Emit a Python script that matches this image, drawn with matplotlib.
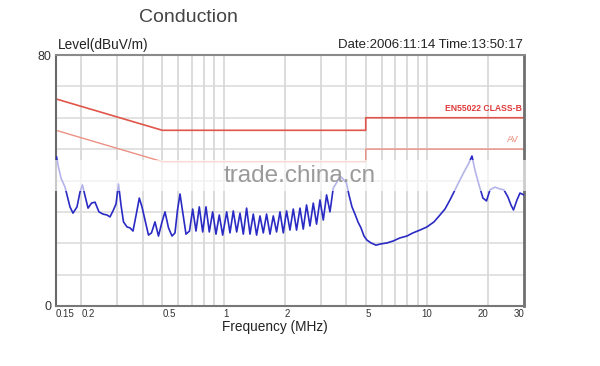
import matplotlib
matplotlib.use("Agg")
import matplotlib.pyplot as plt
from matplotlib.patches import Rectangle

FREQ = [
    0.1509, 0.1535, 0.1587, 0.1661, 0.1757, 0.1818, 0.1903, 0.1968, 0.2024, 0.2084,
    0.2156, 0.2243, 0.2333, 0.2439, 0.2553, 0.2673, 0.2764, 0.2860, 0.2959, 0.3044,
    0.3131, 0.3221, 0.3351, 0.3467, 0.3586, 0.3731, 0.3851, 0.3970, 0.4108, 0.4274,
    0.4421, 0.4600, 0.4786, 0.4981, 0.5153, 0.5361, 0.5578, 0.5770, 0.5936, 0.6106,
    0.6317, 0.6535, 0.6799, 0.7050, 0.7318, 0.7596, 0.7895, 0.8195, 0.8507, 0.8840,
    0.9177, 0.9527, 0.9900, 1.0359, 1.0753, 1.1163, 1.1600,
    1.2044, 1.2503, 1.2979, 1.3487, 1.3999, 1.4532, 1.5102, 1.5676, 1.6273, 1.6912,
    1.7555, 1.8222, 1.8938, 1.9658, 2.0405, 2.1205, 2.2012, 2.2849, 2.3747, 2.4650,
    2.5588, 2.6595, 2.7608, 2.8659, 2.9786, 3.0919, 3.2095, 3.3355, 3.4624,
    3.6105, 3.7355, 3.8646, 4.0207, 4.1362, 4.2790, 4.4268, 4.5797, 4.7379, 4.9016,
    5.0709, 5.3059, 5.6150, 5.9419, 6.3593, 6.8063, 7.3684, 7.9748, 8.5359, 9.2385,
    10.002, 10.826, 11.588, 12.263, 12.977, 13.733, 14.532, 15.379, 16.090, 16.646,
    17.221, 18.019, 18.854, 19.616, 20.408, 21.597, 22.855, 23.914, 25.022, 25.886,
    26.630, 27.707, 28.663, 29.990,
]
LEVEL = [
    47.5, 44.9, 40.8, 37.9, 31.6, 29.6, 31.6, 36.3, 38.6, 35.1,
    31.2, 32.8, 33.1, 30.0, 29.3, 29.0, 28.4, 30.3, 32.5, 38.9,
    32.2, 26.8, 25.2, 24.9, 23.9, 29.6, 34.4, 31.6, 27.4, 22.6,
    23.3, 26.8, 22.3, 26.8, 30.0, 24.9, 22.3, 23.3, 30.6, 35.7,
    29.3, 22.9, 23.9, 30.9, 23.9, 31.6, 23.6, 31.6, 23.6, 30.0,
    22.9, 29.0, 22.6, 30.0, 23.3, 30.3, 23.6,
    29.6, 22.9, 31.2, 22.9, 29.3, 22.6, 28.7, 23.3, 29.3, 22.9,
    28.7, 23.6, 30.0, 23.3, 30.3, 24.2, 30.9, 24.2, 31.2, 24.5,
    32.2, 25.5, 32.8, 26.1, 33.8, 27.4, 35.4, 30.0, 37.6,
    39.5, 41.4, 40.5, 39.2, 35.4, 31.6, 29.3, 26.8, 24.9, 22.3,
    21.0, 20.1, 19.4, 19.8, 20.1, 20.7, 21.7, 22.3, 23.3, 24.2,
    25.2, 26.8, 29.0, 30.9, 33.8, 37.0, 40.2, 43.3, 45.6, 47.8,
    43.3, 38.6, 34.4, 33.5, 37.0, 37.9, 37.3, 37.0, 34.7, 32.2,
    30.6, 33.8, 36.0, 35.4,
]

# EN55022 class B limits
QP_FREQ = [0.15, 0.5, 5, 5, 30]
QP_LEVEL = [66, 56, 56, 60, 60]
AV_FREQ = [0.15, 0.5, 5, 5, 30]
AV_LEVEL = [56, 46, 46, 50, 50]

TICKS = [0.15, 0.2, 0.5, 1, 2, 5, 10, 20, 30]
TICK_LABELS = ["0.15", "0.2", "0.5", "1", "2", "5", "10", "20", "30"]
TICK_HA = ["left", "left", "left", "left", "left", "left", "center", "right", "right"]
MINOR = [0.3, 0.4, 0.6, 0.7, 0.8, 0.9, 3, 4, 6, 7, 8, 9]

plt.rcParams["font.family"] = ["Liberation Sans", "DejaVu Sans"]

fig = plt.figure(figsize=(6.0, 3.66), dpi=100)
ax = fig.add_axes([56 / 600, 60 / 366, 468 / 600, 251 / 366])

ax.set_xscale("log")
ax.set_xlim(0.15, 30)
ax.set_ylim(0, 80)

for f in TICKS[1:-1] + MINOR:
    ax.axvline(f, color="#d2d2d2", lw=1.1, zorder=0)
for lv in range(10, 80, 10):
    ax.axhline(lv, color="#dadada", lw=1.1, zorder=0)

ax.plot(QP_FREQ, QP_LEVEL, color="#e0564a", lw=1.2, zorder=2)
ax.plot(AV_FREQ, AV_LEVEL, color="#ec9184", lw=1.0, zorder=2)
ax.plot(FREQ, LEVEL, color="#2a2ac4", lw=1.2, zorder=3)

ax.text(0.995, 61.5, "EN55022 CLASS-B", transform=ax.get_yaxis_transform(),
        ha="right", va="bottom", fontsize=6.2, fontweight="bold", color="#e03a3a")
ax.text(0.99, 51.5, "AV", transform=ax.get_yaxis_transform(),
        ha="right", va="bottom", fontsize=6.8, color="#e98a7a")

ax.minorticks_off()
ax.set_xticks(TICKS, TICK_LABELS)
for lab, ha in zip(ax.get_xticklabels(), TICK_HA):
    lab.set_ha(ha)
ax.set_yticks([0, 80], ["0", "80"])
ax.tick_params(axis="x", length=0, pad=2, labelsize=7, labelcolor="#333333")
ax.tick_params(axis="y", length=0, pad=3, labelsize=9, labelcolor="#333333")

for side, col, lw in (("left", "#6a6a6a", 1.5), ("bottom", "#777777", 1.5),
                      ("top", "#8a8a8a", 1.5), ("right", "#6f6f6f", 2.0)):
    ax.spines[side].set_color(col)
    ax.spines[side].set_linewidth(lw)

fig.text(188 / 600, 1 - 18 / 366, "Conduction", ha="center", va="center",
         fontsize=14, color="#444444")
fig.text(58 / 600, 1 - 45 / 366, "Level(dBuV/m)", ha="left", va="center",
         fontsize=9.8, color="#222222")
fig.text(523 / 600, 1 - 45 / 366, "Date:2006:11:14 Time:13:50:17", ha="right",
         va="center", fontsize=9.5, color="#222222")
fig.text(275 / 600, 1 - 327 / 366, "Frequency (MHz)", ha="center", va="center",
         fontsize=9.8, color="#222222")

# watermark band over the plot
fig.patches.append(Rectangle((46 / 600, 1 - 191 / 366), 490 / 600, 31 / 366,
                             transform=fig.transFigure, facecolor="white",
                             edgecolor="none", alpha=0.65, zorder=5))
fig.text(300 / 600, 1 - 176 / 366, "trade.china.cn", ha="center", va="center",
         fontsize=17.5, color="#9a9a9a", zorder=6)

fig.savefig("out.png", dpi=100, facecolor="white")
